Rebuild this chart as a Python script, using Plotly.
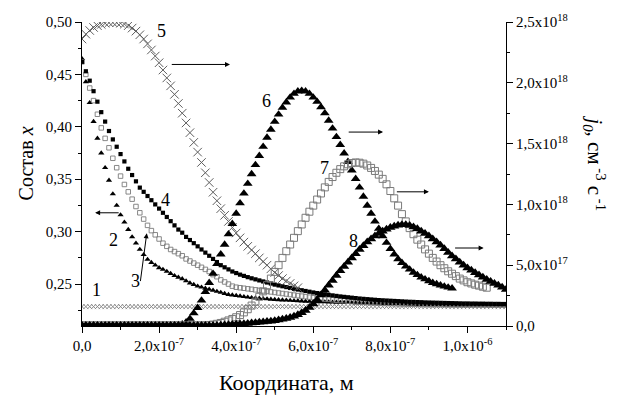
import plotly.graph_objects as go

# x coordinate in nm (axis labels in metres)
x_nm = [
    0, 10, 20, 30, 40, 50, 60, 70, 80, 90,
    100, 110, 120, 130, 140, 150, 160, 170, 180, 190,
    200, 210, 220, 230, 240, 250, 260, 270, 280, 290,
    300, 310, 320, 330, 340, 350, 360, 370, 380, 390,
    400, 410, 420, 430, 440, 450, 460, 470, 480, 490,
    500, 510, 520, 530, 540, 550, 560, 570, 580, 590,
    600, 610, 620, 630, 640, 650, 660, 670, 680, 690,
    700, 710, 720, 730, 740, 750, 760, 770, 780, 790,
    800, 810, 820, 830, 840, 850, 860, 870, 880, 890,
    900, 910, 920, 930, 940, 950, 960, 970, 980, 990,
    1000, 1010, 1020, 1030, 1040, 1050, 1060, 1070, 1080, 1090,
    1100,
]

# composition x (left axis)
c1 = [
    0.2285, 0.2285, 0.2285, 0.2285, 0.2285, 0.2285, 0.2285, 0.2285, 0.2285, 0.2285, 0.2285,
    0.2285, 0.2285, 0.2285, 0.2285, 0.2285, 0.2285, 0.2285, 0.2285, 0.2285, 0.2285,
    0.2285, 0.2285, 0.2285, 0.2285, 0.2285, 0.2285, 0.2285, 0.2285, 0.2285, 0.2285,
    0.2285, 0.2285, 0.2285, 0.2285, 0.2285, 0.2285, 0.2285, 0.2285, 0.2285, 0.2285,
    0.2285, 0.2285, 0.2285, 0.2285, 0.2285, 0.2285, 0.2285, 0.2285, 0.2285, 0.2285,
    0.2285, 0.2285, 0.2285, 0.2285, 0.2285, 0.2285, 0.2285, 0.2285, 0.2285, 0.2285,
    0.2285, 0.2285, 0.2285, 0.2285, 0.2285, 0.2285, 0.2285, 0.2285, 0.2285, 0.2285,
    0.2285, 0.2285, 0.2285, 0.2285, 0.2285, 0.2285, 0.2285, 0.2285, 0.2285, 0.2285,
    0.2285, 0.2285, 0.2285, 0.2285, 0.2285, 0.2285, 0.2285, 0.2285, 0.2285, 0.2285,
    0.2285, 0.2285, 0.2285, 0.2285, 0.2285, 0.2285, 0.2285, 0.2285, 0.2285, 0.2285,
    0.2285, 0.2285, 0.2285, 0.2285, 0.2285, 0.2285, 0.2285, 0.2285, 0.2285, 0.2285,
]
c2 = [
    0.465, 0.443, 0.423, 0.405, 0.389, 0.375, 0.361, 0.349, 0.336, 0.325, 0.316,
    0.309, 0.302, 0.295, 0.289, 0.283, 0.278, 0.2735, 0.2705, 0.268, 0.2655,
    0.264, 0.262, 0.260, 0.258, 0.2565, 0.255, 0.253, 0.251, 0.2495, 0.248,
    0.247, 0.246, 0.245, 0.244, 0.243, 0.242, 0.241, 0.240, 0.2395, 0.239,
    0.2385, 0.238, 0.2375, 0.237, 0.2367, 0.2364, 0.2361, 0.2358, 0.2355, 0.2352,
    0.2350, 0.2348, 0.2346, 0.2344, 0.2342, 0.2340, 0.2338, 0.2336, 0.2334, 0.2332,
    0.2331, 0.2330, 0.2329, 0.2328, 0.2327, 0.2326, 0.2325, 0.2324, 0.2323, 0.2322,
    0.2321, 0.2320, 0.2319, 0.2318, 0.2317, 0.2316, 0.2315, 0.2314, 0.2313, 0.2312,
    0.2311, 0.2310, 0.2309, 0.2308, 0.2307, 0.2306, 0.2305, 0.2304, 0.2303, 0.2302,
    0.2302, 0.2301, 0.2301, 0.2300, 0.2300, 0.2300, 0.2299, 0.2299, 0.2299, 0.2298,
    0.2298, 0.2298, 0.2298, 0.2298, 0.2298, 0.2298, 0.2298, 0.2298, 0.2298, 0.2298,
]
c3 = [
    0.462, 0.450, 0.437, 0.425, 0.412, 0.399, 0.389, 0.380, 0.370, 0.361, 0.353,
    0.345, 0.338, 0.331, 0.324, 0.318, 0.312, 0.306, 0.301, 0.297, 0.293,
    0.289, 0.286, 0.283, 0.281, 0.279, 0.277, 0.274, 0.272, 0.270, 0.268,
    0.266, 0.264, 0.262, 0.259, 0.257, 0.254, 0.252, 0.250, 0.248, 0.247,
    0.2465, 0.246, 0.2455, 0.245, 0.2445, 0.244, 0.2435, 0.243, 0.2425, 0.242,
    0.2415, 0.241, 0.2405, 0.240, 0.2395, 0.239, 0.2385, 0.238, 0.2375, 0.237,
    0.2365, 0.236, 0.2357, 0.2354, 0.235, 0.2346, 0.2343, 0.234, 0.2336, 0.2333,
    0.233, 0.2328, 0.2326, 0.2324, 0.2322, 0.232, 0.2318, 0.2316, 0.2315, 0.2314,
    0.2313, 0.2312, 0.2311, 0.2310, 0.2309, 0.2308, 0.2307, 0.2306, 0.2305, 0.2305,
    0.2304, 0.2304, 0.2303, 0.2303, 0.2302, 0.2302, 0.2301, 0.2301, 0.2300, 0.2300,
    0.2300, 0.2300, 0.2300, 0.2300, 0.2300, 0.2299, 0.2299, 0.2299, 0.2299, 0.2299,
]
c4 = [
    0.462, 0.453, 0.444, 0.434, 0.424, 0.414, 0.405, 0.396, 0.388, 0.381, 0.374,
    0.367, 0.360, 0.354, 0.348, 0.342, 0.338, 0.334, 0.330, 0.326, 0.322,
    0.318, 0.314, 0.310, 0.306, 0.302, 0.299, 0.295, 0.292, 0.289, 0.286,
    0.283, 0.280, 0.277, 0.274, 0.271, 0.268, 0.266, 0.264, 0.262, 0.2605,
    0.259, 0.2578, 0.2566, 0.2555, 0.2545, 0.2535, 0.2525, 0.2515, 0.2505, 0.2495,
    0.2487, 0.2479, 0.2471, 0.2463, 0.2455, 0.2448, 0.2441, 0.2434, 0.2427, 0.2420,
    0.2414, 0.2408, 0.2402, 0.2397, 0.2392, 0.2387, 0.2382, 0.2378, 0.2374, 0.2370,
    0.2366, 0.2362, 0.2359, 0.2356, 0.2353, 0.2350, 0.2347, 0.2345, 0.2343, 0.2341,
    0.2339, 0.2337, 0.2335, 0.2333, 0.2331, 0.2330, 0.2328, 0.2327, 0.2325, 0.2324,
    0.2323, 0.2322, 0.2321, 0.2320, 0.2319, 0.2318, 0.2317, 0.2316, 0.2315, 0.2315,
    0.2314, 0.2314, 0.2313, 0.2313, 0.2312, 0.2312, 0.2311, 0.2311, 0.2310, 0.2310,
]

# j0 in units of 1e18 cm^-3 s^-1 (right axis)
j5 = [
    2.36, 2.40, 2.43, 2.455, 2.47, 2.48, 2.49, 2.494, 2.495, 2.494, 2.49,
    2.483, 2.47, 2.45, 2.425, 2.395, 2.36, 2.32, 2.27, 2.22, 2.165,
    2.105, 2.04, 1.975, 1.905, 1.83, 1.75, 1.67, 1.59, 1.51, 1.43,
    1.345, 1.26, 1.18, 1.10, 1.03, 0.965, 0.91, 0.86, 0.81, 0.765,
    0.725, 0.69, 0.655, 0.625, 0.595, 0.56, 0.53, 0.50, 0.47, 0.44,
    0.415, 0.39, 0.37, 0.35, 0.33, 0.315,
]
j6 = [
    0.005, 0.005, 0.005, 0.005, 0.005, 0.005, 0.005, 0.005, 0.005, 0.005, 0.005,
    0.005, 0.005, 0.005, 0.005, 0.005, 0.005, 0.005, 0.005, 0.005, 0.005,
    0.005, 0.005, 0.005, 0.006, 0.008, 0.015, 0.03, 0.06, 0.105, 0.15,
    0.21, 0.28, 0.355, 0.43, 0.51, 0.59, 0.67, 0.755, 0.84, 0.925,
    1.01, 1.09, 1.17, 1.25, 1.325, 1.40, 1.475, 1.55, 1.615, 1.68,
    1.74, 1.795, 1.84, 1.88, 1.91, 1.93, 1.935, 1.93, 1.91, 1.88,
    1.845, 1.80, 1.75, 1.69, 1.625, 1.555, 1.49, 1.42, 1.35, 1.28,
    1.21, 1.14, 1.065, 0.99, 0.925, 0.86, 0.80, 0.74, 0.685, 0.635,
    0.59, 0.55, 0.52, 0.49, 0.465, 0.44, 0.42, 0.40, 0.385, 0.37,
    0.355, 0.345, 0.335, 0.325, 0.317, 0.31,
]
j7 = [
    0.005, 0.005, 0.005, 0.005, 0.005, 0.005, 0.005, 0.005, 0.005, 0.005, 0.005,
    0.005, 0.005, 0.005, 0.005, 0.005, 0.005, 0.005, 0.005, 0.005, 0.005,
    0.005, 0.005, 0.005, 0.005, 0.005, 0.005, 0.005, 0.005, 0.005, 0.005,
    0.005, 0.005, 0.008, 0.012, 0.018, 0.025, 0.035, 0.046, 0.058, 0.072,
    0.09, 0.112, 0.138, 0.168, 0.20, 0.24, 0.285, 0.335, 0.39, 0.445,
    0.50, 0.56, 0.615, 0.67, 0.725, 0.78, 0.835, 0.89, 0.94, 0.99,
    1.04, 1.09, 1.14, 1.185, 1.225, 1.26, 1.29, 1.313, 1.33, 1.34,
    1.345, 1.343, 1.335, 1.32, 1.30, 1.275, 1.245, 1.21, 1.165, 1.11,
    1.05, 0.99, 0.92, 0.86, 0.805, 0.755, 0.71, 0.67, 0.63, 0.595,
    0.56, 0.53, 0.50, 0.475, 0.45, 0.43, 0.41, 0.39, 0.375, 0.36,
    0.35, 0.34, 0.332, 0.323, 0.315,
]
j8 = [
    0.005, 0.005, 0.005, 0.005, 0.005, 0.005, 0.005, 0.005, 0.005, 0.005, 0.005,
    0.005, 0.005, 0.005, 0.005, 0.005, 0.005, 0.005, 0.005, 0.005, 0.005,
    0.005, 0.005, 0.005, 0.005, 0.005, 0.005, 0.005, 0.005, 0.005, 0.005,
    0.005, 0.005, 0.005, 0.005, 0.005, 0.007, 0.009, 0.011, 0.013, 0.015,
    0.017, 0.019, 0.021, 0.024, 0.027, 0.03, 0.033, 0.036, 0.04, 0.044,
    0.049, 0.055, 0.062, 0.07, 0.08, 0.092, 0.108, 0.128, 0.152, 0.18,
    0.215, 0.255, 0.295, 0.335, 0.375, 0.415, 0.455, 0.49, 0.525, 0.56,
    0.595, 0.63, 0.66, 0.69, 0.715, 0.74, 0.76, 0.78, 0.795, 0.81,
    0.82, 0.828, 0.833, 0.832, 0.826, 0.815, 0.80, 0.78, 0.76, 0.74,
    0.715, 0.69, 0.665, 0.635, 0.605, 0.575, 0.55, 0.525, 0.50, 0.478,
    0.458, 0.438, 0.42, 0.40, 0.383, 0.366, 0.35, 0.335, 0.318, 0.30,
]

x_tickvals = [0, 200, 400, 600, 800, 1000]
x_ticktext = ["0,0", "2,0x10<sup>-7</sup>", "4,0x10<sup>-7</sup>", "6,0x10<sup>-7</sup>",
              "8,0x10<sup>-7</sup>", "1,0x10<sup>-6</sup>"]
yl_tickvals = [0.25, 0.30, 0.35, 0.40, 0.45, 0.50]
yl_ticktext = ["0,25", "0,30", "0,35", "0,40", "0,45", "0,50"]
yr_tickvals = [0, 0.5, 1.0, 1.5, 2.0, 2.5]
yr_ticktext = ["0,0", "5,0x10<sup>17</sup>", "1,0x10<sup>18</sup>", "1,5x10<sup>18</sup>",
               "2,0x10<sup>18</sup>", "2,5x10<sup>18</sup>"]

SERIF = "Liberation Serif, Times New Roman, serif"
GRAY = "#7a7a7a"

fig = go.Figure()

def add(x, y, symbol, size, color, line_w=0, axis="y", line_color=None):
    fig.add_trace(go.Scatter(
        x=x, y=y, mode="markers", yaxis=axis, showlegend=False, hoverinfo="skip",
        marker=dict(symbol=symbol, size=size, color=color,
                    line=dict(width=line_w, color=line_color or color)),
    ))

add(x_nm, c1, "x-thin-open", 5, "#8a8a8a", 1)
add(x_nm, c2, "triangle-up", 5.5, "black")
add(x_nm, c3, "square-open", 4.5, GRAY, 0.9)
add(x_nm, c4, "square", 4.2, "black")
add(x_nm[:len(j5)], j5, "x-thin-open", 8.5, "#5e5e5e", 1, "y2")
add(x_nm[:len(j6)], j6, "triangle-up", 8.5, "black", 0, "y2")
add(x_nm[:len(j7)], j7, "square-open", 7, GRAY, 1, "y2")
add(x_nm[:len(j8)], j8, "triangle-up", 9, "black", 0, "y2")

ann = []
def label(t, x, y):
    ann.append(dict(text=t, x=x, y=y, xref="x", yref="y", showarrow=False,
                    font=dict(family=SERIF, size=18, color="black")))

def arrow(x0, y0, x1, y1):
    ann.append(dict(text="", x=x1, y=y1, ax=x0, ay=y0, xref="x", yref="y",
                    axref="x", ayref="y", showarrow=True, arrowhead=2,
                    arrowsize=1, arrowwidth=1, arrowcolor="black", standoff=0))

label("1", 38, 0.244)
label("2", 81, 0.2925)
label("3", 138, 0.2533)
label("4", 216, 0.330)
label("5", 207, 0.4916)
label("6", 478, 0.4243)
label("7", 629, 0.3607)
label("8", 704, 0.2907)

arrow(99, 0.318, 34, 0.318)
arrow(151, 0.2514, 168, 0.2984)
arrow(229, 0.4595, 384, 0.4595)
arrow(688, 0.395, 781, 0.395)
arrow(813, 0.338, 900, 0.338)
arrow(964, 0.2844, 1042, 0.2844)

ann.append(dict(text="Координата, м", x=0.483, y=-0.186, xref="paper", yref="paper",
                showarrow=False, xanchor="center", yanchor="middle",
                font=dict(family=SERIF, size=22, color="black")))
ann.append(dict(text="Состав <i>x</i>", x=-0.132, y=0.535, xref="paper", yref="paper",
                showarrow=False, textangle=-90, xanchor="center", yanchor="middle",
                font=dict(family=SERIF, size=20, color="black")))
ann.append(dict(text="<i>j<sub>0</sub></i>, см<sup> -3</sup> с<sup> -1</sup>", x=1.21, y=0.535,
                xref="paper", yref="paper", showarrow=False, textangle=90,
                xanchor="center", yanchor="middle",
                font=dict(family=SERIF, size=21, color="black")))

axis_common = dict(showgrid=False, zeroline=False, showline=True, linecolor="black",
                   linewidth=1, ticks="outside", ticklen=6, tickwidth=1, tickcolor="black",
                   tickfont=dict(family=SERIF, size=15, color="black"))

fig.update_layout(
    width=624, height=403,
    margin=dict(l=82, r=118, t=16, b=77),
    paper_bgcolor="white", plot_bgcolor="white",
    xaxis=dict(range=[0, 1100], tickmode="array", tickvals=x_tickvals, ticktext=x_ticktext,
               minor=dict(tickmode="array", tickvals=[100, 300, 500, 700, 900, 1100],
                          ticks="outside", ticklen=3, tickcolor="black"),
               **axis_common),
    yaxis=dict(range=[0.21, 0.50], tickmode="array", tickvals=yl_tickvals, ticktext=yl_ticktext,
               minor=dict(tickmode="array", tickvals=[0.225, 0.275, 0.325, 0.375, 0.425, 0.475],
                          ticks="outside", ticklen=3, tickcolor="black"),
               **axis_common),
    yaxis2=dict(range=[0, 2.5], overlaying="y", side="right", anchor="x",
                tickmode="array", tickvals=yr_tickvals, ticktext=yr_ticktext,
                minor=dict(tickmode="array", tickvals=[0.25, 0.75, 1.25, 1.75, 2.25],
                           ticks="outside", ticklen=3, tickcolor="black"),
                **axis_common),
    annotations=ann,
)

fig.write_html("out.html")
